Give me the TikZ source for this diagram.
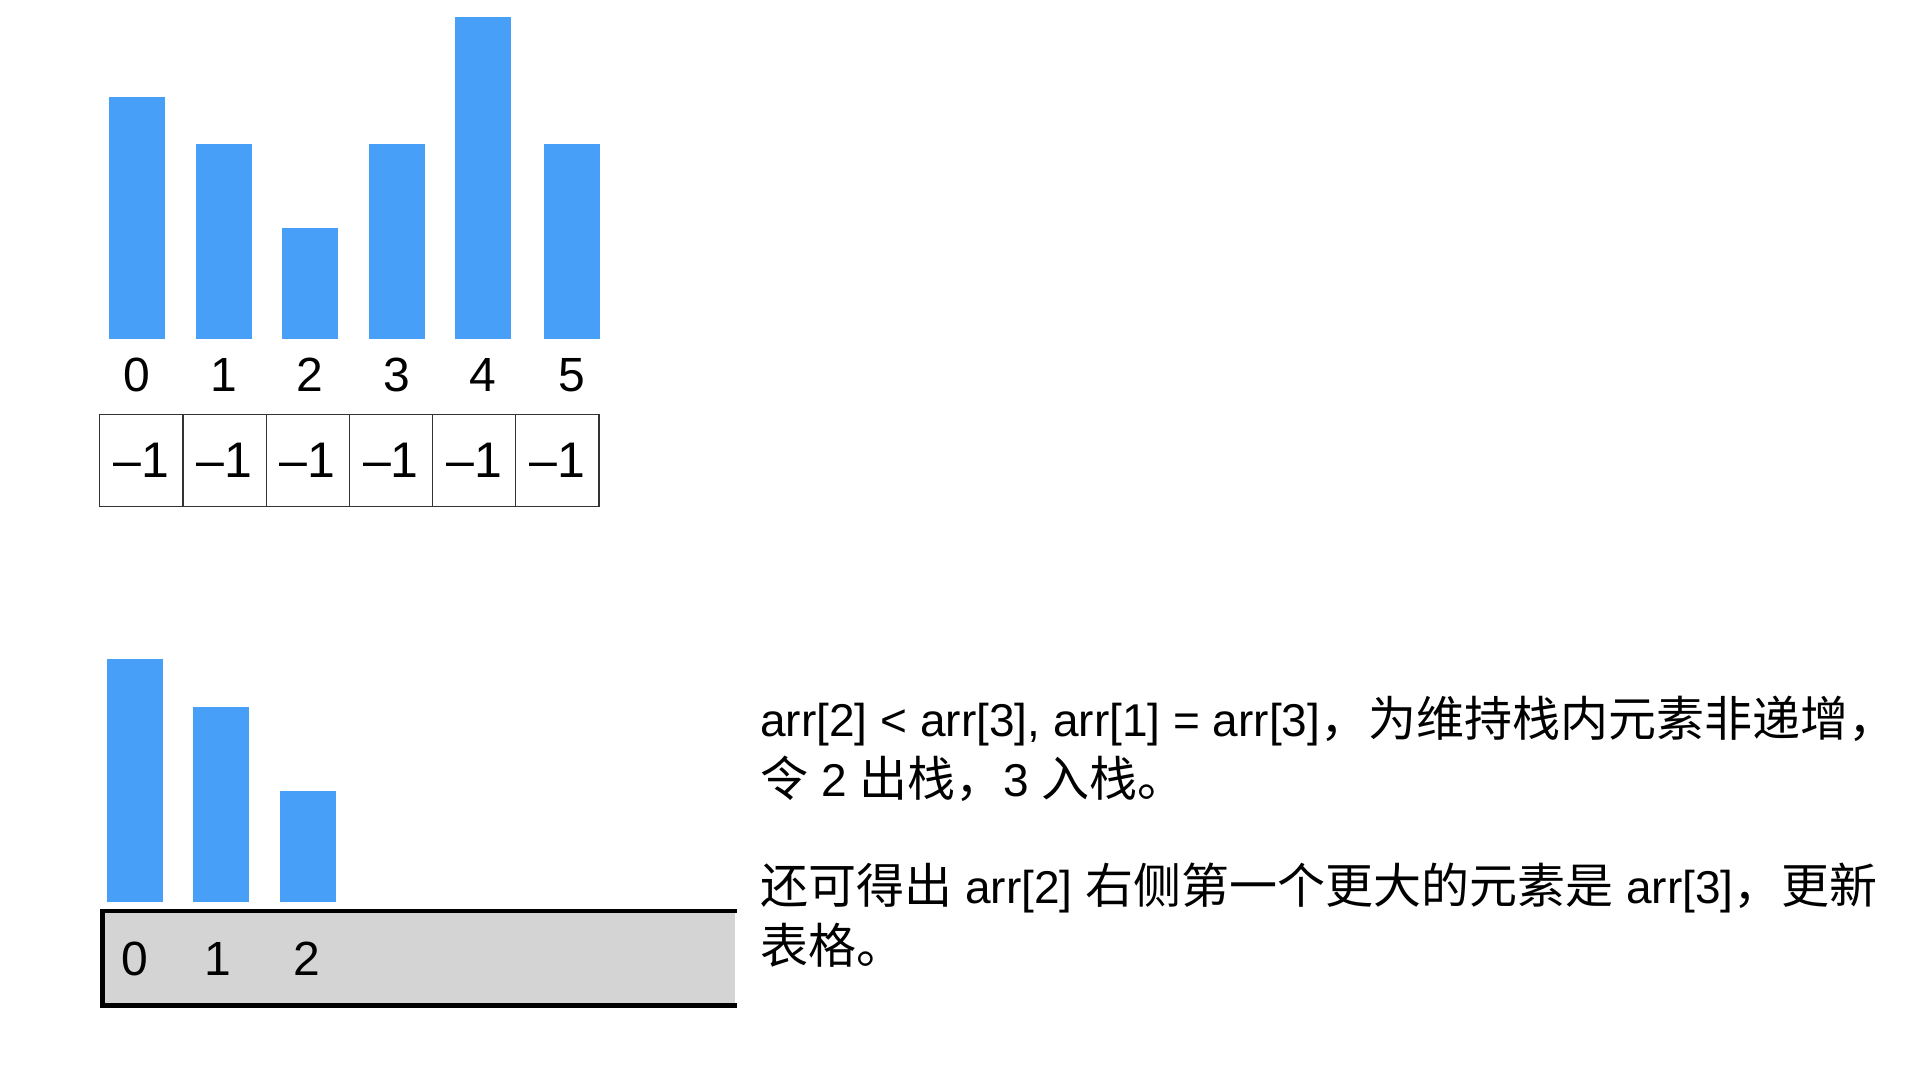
\documentclass[tikz,border=0pt]{standalone}
\usepackage{fontspec}
\setmainfont{Liberation Sans}
\newfontfamily\cjkfont{Noto Sans CJK SC}
\newcommand\zh[1]{{\cjkfont\fontsize{24pt}{30pt}\selectfont #1}}
\definecolor{barblue}{RGB}{72,159,248}
\definecolor{stackgray}{RGB}{212,212,212}

\begin{document}
\begin{tikzpicture}[x=0.5pt,y=-0.5pt]
  \tikzstyle{bar}=[fill=barblue]
  \tikzstyle{idx}=[anchor=base,inner sep=0pt,font=\fontsize{24pt}{28pt}\selectfont]
  \tikzstyle{cell}=[draw=black!80,line width=0.6pt,minimum width=41.6pt,minimum height=45.7pt,inner sep=0pt,font=\fontsize{25pt}{30pt}\selectfont]
  \tikzstyle{note}=[anchor=base west,inner sep=0pt,font=\fontsize{23pt}{30pt}\selectfont]
  \useasboundingbox (0,0) rectangle (1920,1080);
  % array and its indices
  \foreach \x/\h [count=\i from 0] in {109/242.3,195.5/195.2,282/110.8,368.5/195.2,455/322.3,544/195.2}{
    \fill[bar] (\x,338.9) rectangle ++(56,-\h);
    \node[idx] (a\i) at ({\x+28},391) {\i};
  }
  % result table
  \foreach \i in {0,...,5}
    \node[cell] (c\i) at ({141.3+83.2*\i},460.4) {–1};
  % stack
  \fill[stackgray] (102.5,911) rectangle (735,1005.3);
  \draw[line width=2.25pt] (737,911) -- (102.5,911) -- (102.5,1005.3) -- (737,1005.3);
  \foreach \x/\h [count=\i from 0] in {106.6/242.3,193.4/195.2,280.1/110.8}
    \fill[bar] (\x,901.7) rectangle ++(56,-\h);
  \foreach \x [count=\i from 0] in {134.4,218,307}
    \node[idx] (s\i) at (\x,975) {\i};
  % explanation
  \node[note] (n1) at (760,736.7) {arr[2] < arr[3], arr[1] = arr[3]\zh{，为维持栈内元素非递增，}};
  \node[note] (n2) at (760,796.7) {\zh{令} 2 \zh{出栈，}3 \zh{入栈。}};
  \node[note] (n3) at (760,903.5) {\zh{还可得出} arr[2] \zh{右侧第一个更大的元素是} arr[3]\zh{，更新}};
  \node[note] (n4) at (760,963.5) {\zh{表格。}};
\end{tikzpicture}
\end{document}
